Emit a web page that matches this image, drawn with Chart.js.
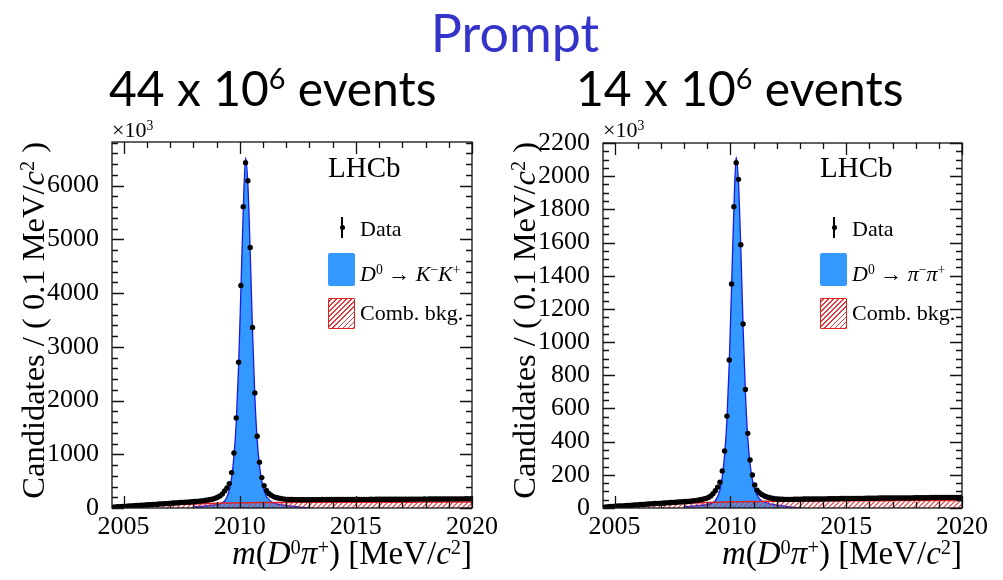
<!DOCTYPE html>
<html>
<head>
<meta charset="utf-8">
<script src="https://cdn.jsdelivr.net/npm/chart.js@4.4.1/dist/chart.umd.min.js"></script>
<style>
  html, body { margin: 0; padding: 0; background: #fff; }
  body { width: 1003px; height: 580px; position: relative; overflow: hidden;
         font-family: "Liberation Serif", "DejaVu Serif", serif; color: #000; }
  canvas { position: absolute; }
  .abs { position: absolute; white-space: nowrap; line-height: 1; }
  .head { font-family: Lato, "Open Sans", sans-serif; }
  sup { font-size: 0.62em; vertical-align: 0.5em; line-height: 0; }
  .ytitle { font-size: 32.5px; line-height: 36px; width: 400px; text-align: right;
            transform-origin: 0 0; transform: rotate(-90deg); }
  .xtitle { font-size: 33px; line-height: 36px; }
  .lhcb { font-size: 29px; }
  .leg { font-size: 22px; }
  .box-sig { position: absolute; width: 27px; height: 33px; border-radius: 2px; background: #3399ff; }
  .box-bkg { position: absolute; width: 27px; height: 31px; box-sizing: border-box;
             border: 1.5px solid #dd2020; border-radius: 1px;
             background: repeating-linear-gradient(-45deg, #e03a3a 0 1.2px, #fff 1.2px 3.6px); }
  .err { position: absolute; width: 1.4px; height: 21px; background: #000; }
  .dot { position: absolute; width: 5px; height: 5px; border-radius: 50%; background: #000; }
</style>
</head>
<body>
<canvas id="kkChart" width="500" height="465" style="left:0;top:115px"></canvas>
<canvas id="pipiChart" width="512" height="465" style="left:491px;top:115px"></canvas>

<div class="abs head" style="left:315px;width:400px;top:6px;text-align:center;font-size:52px;color:#3434c8">Prompt</div>
<div class="abs head" style="left:109px;top:64px;font-size:48px">44 x 10<sup style="font-size:0.6em;vertical-align:0.58em">6</sup> events</div>
<div class="abs head" style="left:576px;top:64px;font-size:48px">14 x 10<sup style="font-size:0.6em;vertical-align:0.58em">6</sup> events</div>

<!-- K-K+ panel labels -->
<div class="abs" style="left:112px;top:119px;font-size:22px">×10<sup>3</sup></div>
<div class="abs ytitle" style="left:15px;top:542px">Candidates / ( 0.1 MeV/<i>c</i><sup>2</sup> )</div>
<div class="abs xtitle" style="right:531px;top:535px"><i>m</i>(<i>D</i><sup>0</sup><i>π</i><sup>+</sup>) [MeV/<i>c</i><sup>2</sup>]</div>
<div class="abs lhcb" style="left:328px;top:153px">LHCb</div>
<div class="err" style="left:341.3px;top:217px"></div>
<div class="dot" style="left:339.5px;top:224.5px"></div>
<div class="abs leg" style="left:360px;top:218px">Data</div>
<div class="box-sig" style="left:328px;top:253px"></div>
<div class="abs leg" style="left:360px;top:263px"><i>D</i><sup>0</sup> → <i>K</i><sup>−</sup><i>K</i><sup>+</sup></div>
<div class="box-bkg" style="left:328px;top:298px"></div>
<div class="abs leg" style="left:360px;top:302px">Comb. bkg.</div>

<!-- pi-pi+ panel labels -->
<div class="abs" style="left:603px;top:119px;font-size:22px">×10<sup>3</sup></div>
<div class="abs ytitle" style="left:506px;top:542px">Candidates / ( 0.1 MeV/<i>c</i><sup>2</sup> )</div>
<div class="abs xtitle" style="right:41px;top:535px"><i>m</i>(<i>D</i><sup>0</sup><i>π</i><sup>+</sup>) [MeV/<i>c</i><sup>2</sup>]</div>
<div class="abs lhcb" style="left:820px;top:153px">LHCb</div>
<div class="err" style="left:833.3px;top:217px"></div>
<div class="dot" style="left:831.5px;top:224.5px"></div>
<div class="abs leg" style="left:852px;top:218px">Data</div>
<div class="box-sig" style="left:820px;top:253px"></div>
<div class="abs leg" style="left:852px;top:263px"><i>D</i><sup>0</sup> → <i>π</i><sup>−</sup><i>π</i><sup>+</sup></div>
<div class="box-bkg" style="left:820px;top:298px"></div>
<div class="abs leg" style="left:852px;top:302px">Comb. bkg.</div>

<script>
// m(D0 pi+) bin centres, 0.1 MeV bins from 2004.5 to 2020
const binCentres = [
  2004.55,2004.65,2004.75,2004.85,2004.95,2005.05,2005.15,2005.25,2005.35,2005.45,
  2005.55,2005.65,2005.75,2005.85,2005.95,2006.05,2006.15,2006.25,2006.35,2006.45,
  2006.55,2006.65,2006.75,2006.85,2006.95,2007.05,2007.15,2007.25,2007.35,2007.45,
  2007.55,2007.65,2007.75,2007.85,2007.95,2008.05,2008.15,2008.25,2008.35,2008.45,
  2008.55,2008.65,2008.75,2008.85,2008.95,2009.05,2009.15,2009.25,2009.35,2009.45,
  2009.55,2009.65,2009.75,2009.85,2009.95,2010.05,2010.15,2010.25,2010.35,2010.45,
  2010.55,2010.65,2010.75,2010.85,2010.95,2011.05,2011.15,2011.25,2011.35,2011.45,
  2011.55,2011.65,2011.75,2011.85,2011.95,2012.05,2012.15,2012.25,2012.35,2012.45,
  2012.55,2012.65,2012.75,2012.85,2012.95,2013.05,2013.15,2013.25,2013.35,2013.45,
  2013.55,2013.65,2013.75,2013.85,2013.95,2014.05,2014.15,2014.25,2014.35,2014.45,
  2014.55,2014.65,2014.75,2014.85,2014.95,2015.05,2015.15,2015.25,2015.35,2015.45,
  2015.55,2015.65,2015.75,2015.85,2015.95,2016.05,2016.15,2016.25,2016.35,2016.45,
  2016.55,2016.65,2016.75,2016.85,2016.95,2017.05,2017.15,2017.25,2017.35,2017.45,
  2017.55,2017.65,2017.75,2017.85,2017.95,2018.05,2018.15,2018.25,2018.35,2018.45,
  2018.55,2018.65,2018.75,2018.85,2018.95,2019.05,2019.15,2019.25,2019.35,2019.45,
  2019.55,2019.65,2019.75,2019.85,2019.95
];

// candidates per bin (x 10^3), D0 -> K- K+
const kkCounts = [
  14,19,22,25,29,31,34,37,40,42,
  46,49,51,54,57,60,62,66,68,71,
  74,77,80,82,86,89,92,95,98,101,
  104,107,110,113,117,120,124,128,132,137,
  143,150,158,168,182,200,225,262,318,372,
  454,659,1024,1676,2713,4141,5605,6425,6089,4849,
  3359,2142,1335,851,566,417,325,272,238,212,
  196,185,178,170,165,161,158,157,156,155,
  155,154,155,155,155,155,156,155,156,156,
  157,156,157,157,158,157,158,158,159,158,
  159,159,160,159,160,160,160,161,160,161,
  161,162,161,162,162,162,163,162,163,163,
  164,163,164,164,164,165,164,165,165,166,
  165,166,166,166,167,166,167,167,168,167,
  168,168,168,169,168,169,169,170,169,170,
  170,170,171,170,171
];

// candidates per bin (x 10^3), D0 -> pi- pi+
const pipiCounts = [
  5,6,8,9,10,11,12,13,13,14,
  15,16,17,18,19,20,21,22,23,24,
  25,26,27,28,28,29,30,31,32,33,
  34,35,36,37,38,39,40,41,43,44,
  46,48,51,54,58,64,73,86,104,126,
  155,223,344,554,892,1350,1816,2081,1981,1587,
  1109,715,450,289,199,139,108,92,82,74,
  68,63,60,57,55,54,53,53,52,52,
  52,52,53,53,53,53,54,54,54,54,
  54,55,55,55,55,55,55,56,56,56,
  56,56,57,57,57,57,57,58,58,58,
  58,58,58,59,59,59,59,59,59,60,
  60,60,60,60,60,60,61,61,61,61,
  61,61,61,61,62,62,62,62,62,62,
  62,63,63,63,63,63,63,63,64,64,
  64,64,64,64,64
];

// signal fit component
const signalMass = [
  2008.05,2008.25,2008.45,2008.65,2008.85,2009.05,2009.15,2009.25,2009.35,2009.45,
  2009.55,2009.65,2009.75,2009.85,2009.95,2010.05,2010.15,2010.25,2010.35,2010.45,
  2010.55,2010.65,2010.75,2010.85,2010.95,2011.05,2011.15,2011.25,2011.35,2011.45,
  2011.55,2011.65,2011.75,2011.95,2012.15,2012.35,2012.55,2012.75,2013.05
];
const kkSignal = [
  20,28,36,45,55,68,78,95,130,205,
  330,560,960,1600,2630,4050,5520,6520,6020,4780,
  3290,2080,1270,790,500,330,215,160,120,98,
  82,70,62,50,40,29,19,10,0
];
const pipiSignal = [
  7,10,12,15,18,22,26,32,45,70,
  110,190,320,530,870,1330,1800,2115,1960,1565,
  1085,690,425,265,170,112,78,56,44,36,
  31,27,24,19,15,11,7,4,0
];

// combinatorial background fit component
const bkgMass = [
  2004.5,2005.0,2005.5,2006.0,2006.5,2007.0,2007.5,2008.0,2008.5,2009.0,
  2009.5,2010.0,2010.5,2011.0,2011.5,2012.0,2012.5,2013.0,2013.5,2014.0,
  2014.5,2015.0,2015.5,2016.0,2016.5,2017.0,2017.5,2018.0,2018.5,2019.0,
  2019.5,2020.0
];
const kkBkg = [
  0,22,35,45,54,62,69,76,82,88,
  92,96,99,101,103,104,105,106,106,107,
  107,108,108,108,109,109,109,110,110,110,
  110,110
];
const pipiBkg = [
  0,8,13,17,20,23,26,28,31,33,
  35,37,38,39,40,41,41,42,42,43,
  43,43,44,44,44,44,45,45,45,45,
  45,45
];

// axis tick labels
const massTicks = [2005, 2010, 2015, 2020];
const kkYTicks = [0, 1000, 2000, 3000, 4000, 5000, 6000];
const pipiYTicks = [0, 200, 400, 600, 800, 1000, 1200, 1400, 1600, 1800, 2000, 2200];

const serif = "'Liberation Serif', 'DejaVu Serif', serif";

function hatchPattern(color) {
  const c = document.createElement("canvas");
  c.width = 5;
  c.height = 5;
  const g = c.getContext("2d");
  g.strokeStyle = color;
  g.lineWidth = 1.2;
  g.beginPath();
  g.moveTo(0, 5); g.lineTo(5, 0);
  g.moveTo(-1, 1); g.lineTo(1, -1);
  g.moveTo(4, 6); g.lineTo(6, 4);
  g.stroke();
  return g.createPattern(c, "repeat");
}

// ROOT-like frame: box plus inward ticks on all four sides
const frameTicks = {
  id: "frameTicks",
  afterDatasetsDraw(chart, args, opts) {
    const { ctx, chartArea: a, scales: { x, y } } = chart;
    ctx.save();
    ctx.strokeStyle = "#111";
    ctx.lineWidth = 1.3;
    ctx.strokeRect(a.left, a.top, a.right - a.left, a.bottom - a.top);
    ctx.beginPath();
    for (let v = Math.ceil(x.min); v <= x.max; v += 1) {
      const px = Math.round(x.getPixelForValue(v)) + 0.5;
      const len = v % 5 === 0 ? 12 : 6;
      ctx.moveTo(px, a.bottom); ctx.lineTo(px, a.bottom - len);
      ctx.moveTo(px, a.top); ctx.lineTo(px, a.top + len);
    }
    for (let v = 0; v <= y.max; v += opts.minor) {
      const py = Math.round(y.getPixelForValue(v)) + 0.5;
      const len = v % opts.major === 0 ? 12 : 6;
      ctx.moveTo(a.left, py); ctx.lineTo(a.left + len, py);
      ctx.moveTo(a.right, py); ctx.lineTo(a.right - len, py);
    }
    ctx.stroke();
    ctx.restore();
  },
};

function drawPanel(canvasId, counts, signal, bkg, yMax, yTicks, yMinor, pad) {
  const ctx = document.getElementById(canvasId).getContext("2d");
  return new Chart(ctx, {
    type: "line",
    data: {
      datasets: [
        {
          label: "Data",
          data: binCentres.map((m, i) => ({ x: m, y: counts[i] })),
          showLine: false,
          pointRadius: 2.7,
          pointBackgroundColor: "#000",
          pointBorderWidth: 0,
          order: 0,
        },
        {
          label: "Comb. bkg.",
          data: bkgMass.map((m, i) => ({ x: m, y: bkg[i] })),
          borderColor: "#dd2020",
          borderWidth: 1.5,
          backgroundColor: hatchPattern("#e03a3a"),
          fill: "origin",
          pointRadius: 0,
          cubicInterpolationMode: "monotone",
          order: 1,
        },
        {
          label: "Signal",
          data: signalMass.map((m, i) => ({ x: m, y: signal[i] })),
          borderColor: "#1a1ae6",
          borderWidth: 1.3,
          backgroundColor: "#3399ff",
          fill: "origin",
          pointRadius: 0,
          cubicInterpolationMode: "monotone",
          order: 2,
        },
      ],
    },
    options: {
      responsive: false,
      animation: false,
      events: [],
      layout: { padding: { top: pad.top, right: pad.right, left: 0, bottom: 0 } },
      plugins: {
        legend: { display: false },
        tooltip: { enabled: false },
        frameTicks: { major: yTicks[1], minor: yMinor },
      },
      scales: {
        x: {
          type: "linear",
          min: 2004.5,
          max: 2020,
          grid: { display: false },
          border: { display: false },
          ticks: {
            autoSkip: false,
            maxRotation: 0,
            padding: -4,
            color: "#000",
            font: { family: serif, size: 26 },
            callback: (v) => String(v),
          },
          afterBuildTicks(scale) { scale.ticks = massTicks.map((v) => ({ value: v })); },
          afterFit(scale) { scale.height = 72; },
        },
        y: {
          min: 0,
          max: yMax,
          grid: { display: false },
          border: { display: false },
          ticks: {
            autoSkip: false,
            padding: 5,
            color: "#000",
            font: { family: serif, size: 26 },
            callback: (v) => String(v),
          },
          afterBuildTicks(scale) { scale.ticks = yTicks.map((v) => ({ value: v })); },
          afterFit(scale) { scale.width = 112; },
        },
      },
    },
    plugins: [frameTicks],
  });
}

drawPanel("kkChart", kkCounts, kkSignal, kkBkg, 6810, kkYTicks, 200, { top: 27, right: 28 });
drawPanel("pipiChart", pipiCounts, pipiSignal, pipiBkg, 2200, pipiYTicks, 50, { top: 28, right: 41 });
</script>
</body>
</html>
